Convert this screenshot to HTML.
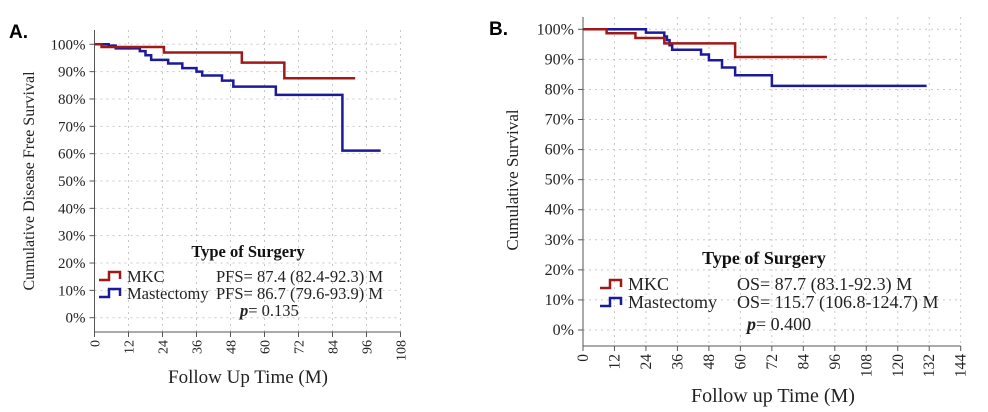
<!DOCTYPE html>
<html><head><meta charset="utf-8"><style>
html,body{margin:0;padding:0;background:#fff;}
svg{display:block;font-family:"Liberation Serif",serif;}
</style></head><body>
<svg id="svg" width="988" height="412" viewBox="0 0 988 412" xmlns="http://www.w3.org/2000/svg"></svg>
<script>
// Panel A data
const aXTicks = [0,12,24,36,48,60,72,84,96,108];
const aYTicks = [0,10,20,30,40,50,60,70,80,90,100];
const aMkcT = [0,2.5,24.5,52,67,92];
const aMkcS = [100,99,97,93.3,87.6,87.6];
const aMastT = [0,5,7.5,16,18,20,26,31,36,38,45,49,64,87.5,101];
const aMastS = [100,99.5,98.5,97.5,96,94.3,93,91.3,90,88.6,86.7,84.5,81.5,61.1,61.1];
// Panel B data
const bXTicks = [0,12,24,36,48,60,72,84,96,108,120,132,144];
const bYTicks = [0,10,20,30,40,50,60,70,80,90,100];
const bMkcT = [0,9,20,31,58,93];
const bMkcS = [100,98.7,97.1,95.3,90.8,90.8];
const bMastT = [0,24,31,32,33,34,45,48,53,58,72,131];
const bMastS = [100,98.9,97.6,96.4,94.7,93.2,91.6,89.7,87.3,84.7,81.2,81.2];

const NS="http://www.w3.org/2000/svg";
const svg=document.getElementById('svg');
function mk(tag,attrs,parent,text){const e=document.createElementNS(NS,tag);for(const k in attrs)e.setAttribute(k,attrs[k]);if(text!==undefined)e.textContent=text;(parent||svg).appendChild(e);return e;}

function panel(cfg){
  const g=mk('g',{});
  
  
  const xs=t=>cfg.x0+(t-cfg.xMin)/(cfg.xMax-cfg.xMin)*(cfg.x1-cfg.x0);
  const ys=v=>cfg.y0+(v-0)/(100)*(cfg.y100-cfg.y0);
  const grid=mk('g',{},g);
  
  
  cfg.xTicks.forEach(t=>{ if(t===0)return;
    const l=mk('line',{x1:xs(t),x2:xs(t),y1:cfg.top,y2:cfg.bottom,stroke:'#c8c8c8','stroke-width':1,'stroke-dasharray':'2,4'},grid);
    
    
  });
  cfg.yTicks.forEach(v=>{
    const l=mk('line',{x1:cfg.x0,x2:cfg.gridRight,y1:ys(v),y2:ys(v),stroke:'#c8c8c8','stroke-width':1,'stroke-dasharray':'2,4'},grid);
    
    
  });
  const ax=mk('path',{d:`M${cfg.x0},${cfg.top} V${cfg.bottom} H${xs(cfg.xMax)}`,fill:'none',stroke:'#555','stroke-width':1},g);
  
  
  cfg.yTicks.forEach(v=>{
    mk('line',{x1:cfg.x0-5,x2:cfg.x0,y1:ys(v),y2:ys(v),stroke:'#555'},g);
    const t=mk('text',{x:cfg.x0-9,y:ys(v)+5,'text-anchor':'end','font-size':cfg.tickFs,fill:'#222'},g,v+'%');
    
    
  });
  cfg.xTicks.forEach(v=>{
    mk('line',{x1:xs(v),x2:xs(v),y1:cfg.bottom,y2:cfg.bottom+5,stroke:'#555'},g);
    const t=mk('text',{x:0,y:0,'text-anchor':'end','font-size':cfg.xTickFs,fill:'#222',transform:`translate(${xs(v)+5},${cfg.bottom+8}) rotate(-90)`},g,String(v));
    
    
  });
  const xt=mk('text',{x:cfg.xTitleX,y:cfg.xTitleY,'text-anchor':'middle','font-size':cfg.xTitleFs,fill:'#222'},g,cfg.xTitle);
  
  
  const yt=mk('text',{x:0,y:0,'text-anchor':'middle','font-size':cfg.yTitleFs,fill:'#222',transform:`translate(${cfg.yTitleX},${cfg.yTitleY}) rotate(-90)`},g,cfg.yTitle);
  
  
  function step(T,S,color,name){
    let d=`M${xs(T[0])},${ys(S[0])}`;
    for(let i=1;i<T.length;i++){d+=` H${xs(T[i])} V${ys(S[i])}`;}
    const p=mk('path',{d,fill:'none',stroke:color,'stroke-width':2.5},g);
    
    
  }
  step(cfg.mastT,cfg.mastS,'#1a1a9a','mastectomy-curve');
  step(cfg.mkcT,cfg.mkcS,'#a01818','mkc-curve');
  const pl=mk('text',{x:cfg.labelX,y:cfg.labelY,'font-size':19,'font-weight':'bold','font-family':'Liberation Sans, sans-serif',fill:'#000'},g,cfg.label);
  
  
  const lg=mk('g',{},g);
  
  
  const lt=mk('text',{x:cfg.legTitleX,y:cfg.legTitleY,'text-anchor':'middle','font-size':cfg.legTitleFs,'font-weight':'bold',fill:'#111'},lg,'Type of Surgery');
  
  
  [['MKC','#a01818',cfg.mkcStat],['Mastectomy','#1a1a9a',cfg.mastStat]].forEach((r,i)=>{
    const y=cfg.legRowY+i*cfg.legGap;
    const ic=mk('path',{d:`M${cfg.iconX},${y} h10 v-8 h11 v7`,fill:'none',stroke:r[1],'stroke-width':2.5},lg);
    
    
    const t1=mk('text',{x:cfg.iconX+28,y:y+2,'font-size':cfg.legFs,fill:'#222'},lg,r[0]);
    
    
    const t2=mk('text',{x:cfg.statX,y:y+2,'font-size':cfg.legFs,fill:'#222'},lg,r[2]);
    
    
  });
  const pv=mk('text',{x:cfg.pX,y:cfg.pY,'font-size':cfg.legFs,fill:'#222'},lg);
  
  
  mk('tspan',{'font-style':'italic','font-weight':'bold'},pv,'p');
  mk('tspan',{},pv,'= '+cfg.p);
}

panel({name:'panel-a',x0:94.5,x1:400.5,xMin:0,xMax:108,y0:317.7,y100:44.3,top:30,bottom:332,gridRight:400,
  xTicks:aXTicks,yTicks:aYTicks,mkcT:aMkcT,mkcS:aMkcS,mastT:aMastT,mastS:aMastS,tickFs:15,xTickFs:14,
  xTitle:'Follow Up Time (M)',xTitleX:248,xTitleY:383,xTitleFs:19,yTitle:'Cumulative Disease Free Survival',yTitleX:34,yTitleY:181,yTitleFs:16,
  label:'A.',labelX:9,labelY:38,legTitleX:248,legTitleY:257,legTitleFs:16.5,legRowY:280,legGap:17,iconX:99,statX:216,legFs:16.5,
  mkcStat:'PFS= 87.4 (82.4-92.3) M',mastStat:'PFS= 86.7 (79.6-93.9) M',pX:240,pY:316,p:'0.135'});

panel({name:'panel-b',x0:583,x1:960.7,xMin:0,xMax:144,y0:330,y100:29.3,top:17,bottom:346,gridRight:960,
  xTicks:bXTicks,yTicks:bYTicks,mkcT:bMkcT,mkcS:bMkcS,mastT:bMastT,mastS:bMastS,tickFs:16,xTickFs:15.5,
  xTitle:'Follow up Time (M)',xTitleX:773,xTitleY:402,xTitleFs:20,yTitle:'Cumulative Survival',yTitleX:518,yTitleY:180,yTitleFs:17,
  label:'B.',labelX:489,labelY:35,legTitleX:764,legTitleY:264,legTitleFs:18,legRowY:288,legGap:18,iconX:600,statX:737,legFs:18,
  mkcStat:'OS= 87.7 (83.1-92.3) M',mastStat:'OS= 115.7 (106.8-124.7) M',pX:747,pY:330,p:'0.400'});
</script>
</body></html>
